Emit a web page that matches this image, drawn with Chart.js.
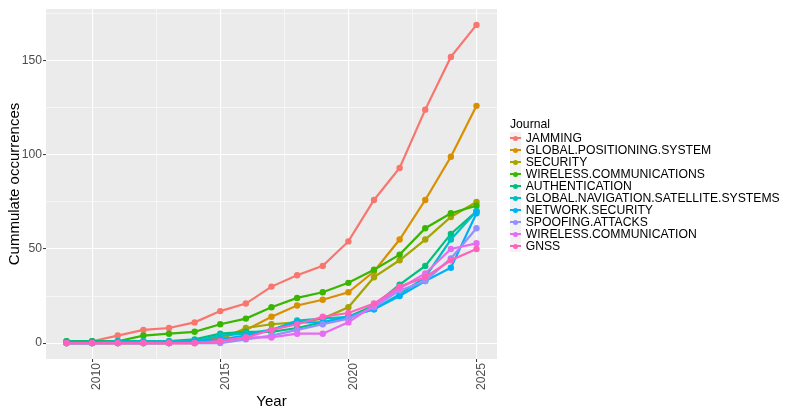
<!DOCTYPE html>
<html>
<head>
<meta charset="utf-8">
<script src="https://cdn.jsdelivr.net/npm/chart.js@4/dist/chart.umd.min.js"></script>
<style>
html,body{margin:0;padding:0;background:#ffffff;}
#wrap{position:relative;width:787px;height:416px;overflow:hidden;}
#c{position:absolute;left:0;top:0;}
#legend{position:absolute;left:510px;top:116px;font-family:"Liberation Sans",Arial,sans-serif;font-size:12.2px;color:#000;}
#legend .ttl{height:16px;line-height:16px;font-size:12.2px;}
#legend .row{position:relative;height:12px;line-height:12px;white-space:nowrap;}
#legend .key{position:absolute;left:0;top:0;width:11px;height:12px;background:#F2F2F2;}
#legend .key .ln{position:absolute;left:0;width:11px;top:5px;height:2px;}
#legend .key .dt{position:absolute;left:3px;top:3.5px;width:5px;height:5px;border-radius:50%;}
#legend .txt{position:absolute;left:15.7px;top:0;}
</style>
</head>
<body>
<div id="wrap">
<canvas id="c" width="787" height="416"></canvas>
<div id="legend"></div>
</div>
<script>
// ---- data ----
const years = [2009,2010,2011,2012,2013,2014,2015,2016,2017,2018,2019,2020,2021,2022,2023,2024,2025];
const jamming                = [0,1,4,7,8,11,17,21,30,36,41,54,76,93,124,152,169];
const globalPositioning      = [0,0,0,0,0,1,3,7,14,20,23,27,38,55,76,99,126];
const security               = [0,0,0,0,0,0,2,8,10,11,13,19,35,44,55,67,75];
const wirelessCommunications = [1,1,1,4,5,6,10,13,19,24,27,32,39,47,61,69,73];
const authentication         = [1,1,1,1,1,2,5,6,6,8,11,14,20,31,41,58,70];
const globalNavigation       = [0,0,1,1,1,1,4,5,7,12,13,14,18,26,35,55,70];
const networkSecurity        = [0,0,0,0,0,1,2,4,7,11,11,14,18,25,33,40,69];
const spoofingAttacks        = [0,0,0,0,0,0,0,2,4,7,10,13,19,28,33,45,61];
const wirelessCommunication  = [0,0,0,0,0,0,1,3,3,5,5,11,20,29,37,50,53];
const gnss                   = [0,0,0,0,0,0,1,3,7,10,14,16,21,30,35,44,50];

const seriesNames = ["JAMMING","GLOBAL.POSITIONING.SYSTEM","SECURITY","WIRELESS.COMMUNICATIONS","AUTHENTICATION","GLOBAL.NAVIGATION.SATELLITE.SYSTEMS","NETWORK.SECURITY","SPOOFING.ATTACKS","WIRELESS.COMMUNICATION","GNSS"];
const seriesValues = [jamming,globalPositioning,security,wirelessCommunications,authentication,globalNavigation,networkSecurity,spoofingAttacks,wirelessCommunication,gnss];
const seriesColors = ["#F8766D","#D89000","#A3A500","#39B600","#00BF7D","#00BFC4","#00B0F6","#9590FF","#E76BF3","#FF62BC"];
const xTickLabels = [2010,2015,2020,2025];
const yTickLabels = [0,50,100,150];
const legendTitle = "Journal";
const xTitle = "Year";
const yTitle = "Cummulate occurrences";

// ---- chart ----
const FONT = '"Liberation Sans", Arial, sans-serif';
const xMinor = [2012.5,2017.5,2022.5];
const yMinor = [25,75,125,175];
const xAll = xTickLabels.concat(xMinor).sort((a,b)=>a-b);
const yAll = yTickLabels.concat(yMinor).sort((a,b)=>a-b);
const isMajX = v => xTickLabels.includes(v);
const isMajY = v => yTickLabels.includes(v);

const panelBg = {
  id:'panelBg',
  beforeDraw(chart){
    const {ctx, chartArea:a} = chart;
    ctx.save();
    ctx.fillStyle = '#EBEBEB';
    ctx.fillRect(a.left, a.top, a.right - a.left, a.bottom - a.top);
    ctx.restore();
  }
};

new Chart(document.getElementById('c'), {
  type:'line',
  data:{
    datasets: seriesNames.map((n,i)=>({
      label:n,
      data: years.map((yr,j)=>({x:yr, y:seriesValues[i][j]})),
      borderColor: seriesColors[i],
      backgroundColor: seriesColors[i],
      pointBackgroundColor: seriesColors[i],
      pointBorderColor: seriesColors[i],
      pointBorderWidth: 0,
      pointRadius: 3.2,
      pointHoverRadius: 3.2,
      borderWidth: 2.2,
      tension: 0,
      fill: false,
      order: seriesNames.length - i
    }))
  },
  options:{
    responsive:false,
    animation:false,
    devicePixelRatio:1,
    layout:{padding:{left:0, top:9, right:290, bottom:0}},
    plugins:{legend:{display:false}, tooltip:{enabled:false}},
    scales:{
      x:{
        type:'linear', min:2008.2, max:2025.8,
        afterBuildTicks(s){ s.ticks = xAll.map(v=>({value:v})); },
        afterFit(s){ s.height = 57; },
        ticks:{autoSkip:false, minRotation:90, maxRotation:90, labelOffset:5, padding:1,
          color:'#4D4D4D', font:{family:FONT, size:12.2},
          callback:(v)=> isMajX(v) ? String(v) : ''},
        grid:{color:'#FFFFFF',
          lineWidth: c => (c.tick && isMajX(c.tick.value)) ? 1.1 : 0.55,
          drawTicks:true, tickLength:3, tickWidth:1,
          tickColor: c => (c.tick && isMajX(c.tick.value)) ? '#333333' : 'rgba(0,0,0,0)'},
        border:{display:false},
        title:{display:true, text:xTitle, color:'#000000', font:{family:FONT, size:15}, padding:{top:0, bottom:5}}
      },
      y:{
        type:'linear', min:-8.45, max:177.45,
        afterBuildTicks(s){ s.ticks = yAll.map(v=>({value:v})); },
        afterFit(s){ s.width = 46; },
        ticks:{autoSkip:false, padding:1, color:'#4D4D4D', font:{family:FONT, size:12.2},
          callback:(v)=> isMajY(v) ? String(v) : ''},
        grid:{color:'#FFFFFF',
          lineWidth: c => (c.tick && isMajY(c.tick.value)) ? 1.1 : 0.55,
          drawTicks:true, tickLength:3, tickWidth:1,
          tickColor: c => (c.tick && isMajY(c.tick.value)) ? '#333333' : 'rgba(0,0,0,0)'},
        border:{display:false},
        title:{display:true, text:yTitle, color:'#000000', font:{family:FONT, size:15}, padding:{top:6, bottom:0}}
      }
    }
  },
  plugins:[panelBg]
});

// ---- legend (HTML) ----
const lg = document.getElementById('legend');
const t = document.createElement('div');
t.className = 'ttl';
t.textContent = legendTitle;
lg.appendChild(t);
seriesNames.forEach((n,i)=>{
  const row = document.createElement('div'); row.className = 'row';
  const key = document.createElement('div'); key.className = 'key';
  const ln = document.createElement('div'); ln.className = 'ln'; ln.style.background = seriesColors[i];
  const dt = document.createElement('div'); dt.className = 'dt'; dt.style.background = seriesColors[i];
  key.appendChild(ln); key.appendChild(dt);
  const tx = document.createElement('span'); tx.className = 'txt'; tx.textContent = n;
  row.appendChild(key); row.appendChild(tx);
  lg.appendChild(row);
});
</script>
</body>
</html>
